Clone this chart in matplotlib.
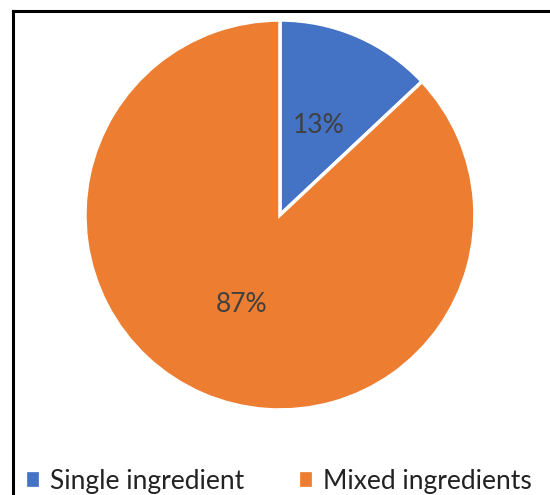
import matplotlib
matplotlib.use("Agg")
import matplotlib.pyplot as plt
from matplotlib.lines import Line2D
from matplotlib.patches import Patch

labels = ["Single ingredient", "Mixed ingredients"]
shares = [13, 87]
colors = ["#4472C4", "#ED7D31"]

plt.rcParams["font.family"] = ["Lato", "DejaVu Sans"]

fig = plt.figure(figsize=(5.5, 4.95), dpi=100)

# pie axes, radius ~195px, center at (280, 215) from top-left
ax = fig.add_axes([0.1545, 0.1717, 0.709, 0.788])
wedges, texts, autotexts = ax.pie(
    shares,
    colors=colors,
    startangle=90,
    counterclock=False,
    autopct="%1.0f%%",
    pctdistance=0.5,
    wedgeprops={"edgecolor": "white", "linewidth": 2.5},
    textprops={"fontsize": 19, "color": "#404040"},
)
ax.set_xlim(-1, 1)
ax.set_ylim(-1, 1)
ax.set_aspect("equal")
ax.axis("off")

# frame (only left and top visible in the crop)
fig.add_artist(Line2D([13 / 550, 13 / 550], [0, 1 - 11 / 495], color="black", lw=2.2, transform=fig.transFigure))
fig.add_artist(Line2D([13 / 550, 1], [1 - 11 / 495, 1 - 11 / 495], color="black", lw=2.2, transform=fig.transFigure))

# legend squares without the white wedge edge
handles = [Patch(facecolor=c, edgecolor=c, linewidth=0.5) for c in colors]
fig.legend(
    handles,
    labels,
    loc="lower left",
    bbox_to_anchor=(0.006, -0.045),
    ncol=2,
    frameon=False,
    fontsize=19,
    handlelength=0.42,
    handleheight=0.42,
    handletextpad=0.45,
    columnspacing=2.1,
    labelcolor="#222222",
)

fig.savefig("out.png", dpi=100)
